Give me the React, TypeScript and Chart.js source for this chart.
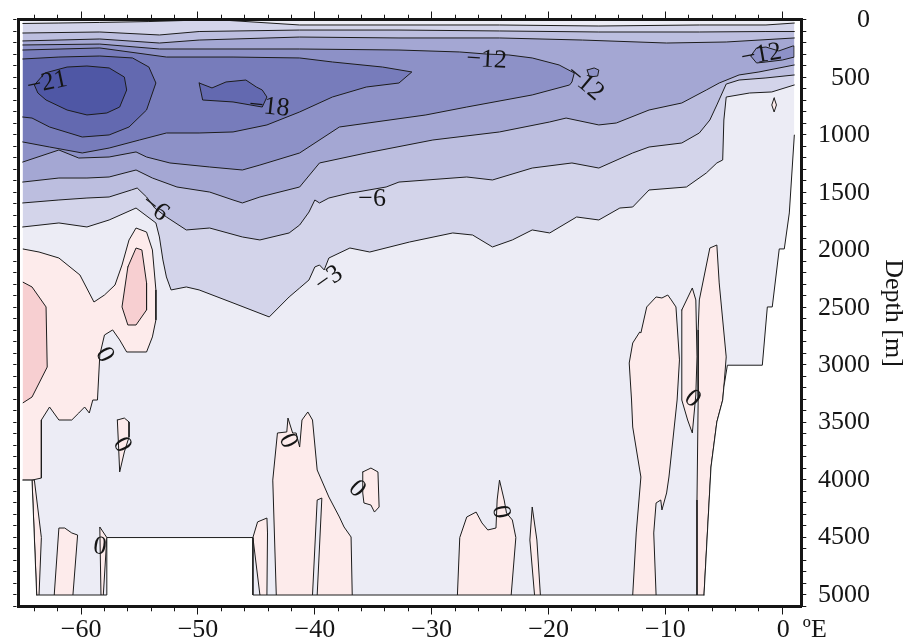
import { useEffect, useRef } from 'react';
import { Chart, registerables } from 'chart.js';

Chart.register(...registerables);

type P = [number, number]; // [longitude °E, depth m]

// ---------- axes ----------
const X_MIN = -65.4;
const X_MAX = 1.6;
const Y_MIN = -8.7;
const Y_MAX = 5100;
const X_MINOR_STEP = 2;
const X_MAJOR_STEP = 10;
const Y_MINOR_STEP = 100;
const Y_MAJOR_STEP = 500;
const X_LABEL_VALUES = [-60, -50, -40, -30, -20, -10, 0];
const X_LABEL_TEXT = ['−60', '−50', '−40', '−30', '−20', '−10', '0  ºE'];
const Y_LABEL_VALUES = [0, 500, 1000, 1500, 2000, 2500, 3000, 3500, 4000, 4500, 5000];
const Y_LABEL_TEXT = ['0', '500', '1000', '1500', '2000', '2500', '3000', '3500', '4000', '4500', '5000'];
const Y_TITLE = 'Depth [m]';

// ---------- section extent ----------
const SECTION_WEST = -65;
const SECTION_EAST = 1.03;
const SECTION_SURFACE = 0;
const SECTION_FLOOR = 5000;

// ---------- negative contours ----------
const C_M3_TOP_W: P[] = [[-65, 26], [-61.9, 22], [-58.4, 17], [-54.2, 9], [-51.2, 0]];
const C_M3_TOP_E: P[] = [[-47.3, 0], [-41.3, 39], [-32.8, 39], [-24.2, 39], [-15.7, 48], [-7.1, 39], [-1.4, 39], [1.03, 22]];
const C_M3_BOT: P[] = [[1.03, 561], [-0.9, 622], [-2.8, 631], [-4.8, 666], [-5.0, 866], [-5.1, 1214], [-5.6, 1240], [-6.5, 1327], [-8.2, 1449], [-11.4, 1475], [-12.8, 1623], [-13.9, 1632], [-15.7, 1736], [-17.6, 1710], [-19.9, 1849], [-21.4, 1823], [-23.1, 1910], [-24.8, 1971], [-26.5, 1867], [-28.2, 1849], [-31.9, 1928], [-35.3, 2015], [-37.0, 1980], [-38.8, 2067], [-39.2, 2171], [-39.6, 2128], [-40.0, 2145], [-40.5, 2258], [-41.3, 2328], [-42.2, 2406], [-43.9, 2580], [-47.0, 2458], [-49.9, 2345], [-51.0, 2319], [-52.3, 2345], [-52.7, 2232], [-53.0, 2084], [-53.3, 1884], [-53.6, 1762], [-55.3, 1632], [-57.6, 1736], [-59.5, 1797], [-61.9, 1762], [-65, 1797]];
const C_M6_TOP: P[] = [[-65, 109], [-58.4, 100], [-53.3, 126], [-49.9, 96], [-41.3, 83], [-32.8, 83], [-24.2, 91], [-15.7, 100], [-7.1, 100], [-1.4, 96], [1.03, 96]];
const C_M6_BOT: P[] = [[1.03, 474], [-1.4, 500], [-3.7, 518], [-4.8, 553], [-5.6, 735], [-6.2, 866], [-7.1, 979], [-8.6, 1066], [-11.4, 1101], [-12.8, 1153], [-15.7, 1284], [-18.0, 1240], [-21.4, 1284], [-24.8, 1388], [-27.0, 1362], [-32.8, 1406], [-33.9, 1449], [-36.4, 1493], [-37.0, 1501], [-38.8, 1545], [-39.6, 1588], [-40.0, 1562], [-40.5, 1667], [-41.3, 1780], [-42.2, 1849], [-44.7, 1910], [-46.2, 1884], [-49.0, 1806], [-51.0, 1823], [-52.7, 1710], [-53.7, 1632], [-54.4, 1536], [-55.2, 1458], [-55.7, 1475], [-57.6, 1536], [-59.5, 1545], [-61.9, 1562], [-65, 1588]];
const C_M9_TOP: P[] = [[-65, 178], [-58.4, 161], [-53.3, 196], [-49.9, 170], [-41.3, 144], [-32.8, 152], [-24.2, 152], [-17.1, 170], [-9.9, 196], [-4.8, 187], [1.03, 152]];
const C_M9_BOT: P[] = [[1.03, 387], [-2.0, 448], [-3.7, 474], [-5.4, 544], [-6.5, 605], [-8.6, 718], [-11.4, 779], [-14.2, 892], [-15.7, 909], [-18.5, 849], [-19.9, 883], [-24.2, 970], [-29.9, 1040], [-35.6, 1153], [-39.6, 1240], [-41.3, 1449], [-44.7, 1536], [-46.2, 1588], [-47.0, 1562], [-49.0, 1493], [-51.8, 1449], [-53.9, 1371], [-55.3, 1301], [-57.6, 1362], [-59.5, 1371], [-61.9, 1371], [-65, 1406]];
const C_M12: P[] = [[-65, 213], [-58.4, 205], [-53.3, 248], [-41.3, 248], [-32.8, 257], [-27.6, 274], [-25.3, 292], [-23.4, 300], [-21.4, 326], [-19.1, 387], [-17.8, 457], [-18.0, 535], [-18.2, 561], [-21.4, 648], [-27.0, 753], [-30.5, 822], [-37.9, 927], [-41.3, 1153], [-44.7, 1258], [-46.2, 1301], [-49.0, 1275], [-52.4, 1240], [-54.4, 1188], [-55.3, 1144], [-57.6, 1188], [-60.2, 1197], [-61.9, 1127], [-65, 1232]];
const C_M12_EAST: P[] = [[-2.7, 309], [-2.2, 239], [-1.4, 231], [-0.3, 265], [0.9, 222], [1.03, 222], [1.03, 318], [0, 344], [-1.4, 361], [-2.2, 370]];
const C_M12_SMALL: P[] = [[-16.7, 431], [-16.1, 413], [-15.7, 431], [-15.8, 483], [-16.5, 492]];
const C_M15: P[] = [[-65, 257], [-58.4, 239], [-52.7, 318], [-47.0, 318], [-41.3, 326], [-38.5, 361], [-34.2, 405], [-31.7, 448], [-32.8, 544], [-35.6, 579], [-38.5, 666], [-41.3, 796], [-44.1, 909], [-47.0, 970], [-49.9, 979], [-52.7, 979], [-55.0, 1040], [-57.6, 1110], [-59.9, 1153], [-62.7, 1101], [-65, 1057]];
const C_M18: P[] = [[-65, 335], [-61.9, 318], [-58.4, 309], [-55.6, 326], [-54.2, 405], [-53.6, 544], [-54.4, 779], [-55.9, 927], [-57.6, 996], [-59.9, 1014], [-62.7, 927], [-64.2, 849], [-65, 840]];
const C_M18_BLOB: P[] = [[-49.9, 544], [-48.8, 587], [-47.6, 535], [-45.9, 518], [-45.0, 579], [-44.5, 605], [-44.1, 666], [-44.5, 753], [-47.0, 709], [-49.6, 692]];
const C_M21: P[] = [[-64.0, 561], [-63.1, 457], [-61.2, 405], [-59.5, 396], [-57.6, 413], [-56.3, 492], [-56.1, 605], [-56.7, 753], [-57.8, 805], [-59.5, 822], [-61.2, 779], [-63.0, 692], [-63.7, 631]];

// ---------- positive contours ----------
const C_P0_WEST: P[] = [[-65, 1988], [-63.6, 2015], [-61.9, 2067], [-60.1, 2215], [-58.9, 2450], [-58.0, 2389], [-57.1, 2302], [-56.5, 2128], [-55.9, 1910], [-55.3, 1806], [-54.4, 1841], [-53.9, 1997], [-53.6, 2345], [-53.6, 2606], [-53.9, 2754], [-54.4, 2885], [-56.1, 2885], [-56.7, 2780], [-57.3, 2693], [-58.0, 2737], [-58.4, 2911], [-58.6, 3303], [-59.0, 3303], [-59.3, 3416], [-59.7, 3364], [-60.2, 3416], [-60.8, 3477], [-61.9, 3477], [-62.7, 3364], [-63.4, 3477], [-63.4, 3982], [-64.2, 4000], [-65, 4000]];
const C_P3_WEST: P[] = [[-65, 2276], [-64.2, 2319], [-63.0, 2493], [-62.9, 3016], [-64.2, 3277], [-65, 3329]];
const C_P3_TONGUE: P[] = [[-56.0, 2145], [-55.3, 1980], [-54.8, 1997], [-54.4, 2284], [-54.4, 2519], [-55.3, 2650], [-56.0, 2650], [-56.5, 2493]];
const C_P0_SPOT_A: P[] = [[-56.9, 3477], [-56.3, 3460], [-55.9, 3494], [-55.9, 3625], [-56.3, 3755], [-56.7, 3929], [-56.8, 3695]];
const C_P0_SLIVER: P[] = [[-63.8, 5000], [-64.2, 4000], [-64.0, 4000], [-63.4, 4500], [-63.6, 5000]];
const C_P0_PATCH_B: P[] = [[-62.3, 5000], [-61.9, 4417], [-61.4, 4417], [-60.8, 4460], [-60.3, 4478], [-60.7, 5000]];
const C_P0_PATCH_C: P[] = [[-58.3, 5000], [-58.4, 4408], [-57.8, 4500], [-58.1, 5000]];
const C_P0_PATCH_D: P[] = [[-44.7, 5000], [-45.3, 4500], [-44.9, 4364], [-44.1, 4330], [-44.05, 4460], [-44.1, 5000]];
const C_P0_BIG: P[] = [[-43.3, 5000], [-43.6, 4000], [-43.2, 3590], [-42.4, 3581], [-42.3, 3460], [-41.9, 3590], [-41.6, 3590], [-41.3, 3712], [-41.1, 3477], [-40.6, 3407], [-40.2, 3477], [-39.8, 3912], [-38.8, 4147], [-37.9, 4321], [-37.5, 4408], [-36.9, 4495], [-36.8, 5000]];
const C_M0_WEDGE: P[] = [[-40.2, 5000], [-39.8, 4173], [-39.4, 4156], [-39.8, 5000]];
const C_P0_SPOT_E: P[] = [[-35.9, 3929], [-35.2, 3895], [-34.6, 3929], [-34.5, 4234], [-34.9, 4278], [-35.2, 4217], [-35.8, 4199], [-35.9, 4112]];
const C_P0_PATCH_F: P[] = [[-27.8, 5000], [-27.6, 4500], [-27.0, 4321], [-26.2, 4278], [-25.7, 4373], [-25.2, 4434], [-24.5, 4417], [-24.4, 4173], [-24.2, 4000], [-23.8, 4173], [-23.6, 4286], [-23.1, 4347], [-22.8, 4500], [-23.2, 5000]];
const C_P0_SPIKE: P[] = [[-21.2, 5000], [-21.6, 4521], [-21.4, 4234], [-21.0, 4521], [-20.7, 5000]];
const C_P0_EAST_A: P[] = [[-12.8, 5000], [-12.5, 4460], [-12.1, 3973], [-12.2, 3912], [-12.8, 3538], [-12.9, 3303], [-13.1, 2981], [-12.8, 2807], [-12.2, 2711], [-12.1, 2719], [-11.6, 2493], [-10.8, 2406], [-10.3, 2415], [-9.8, 2389], [-9.5, 2432], [-9.1, 2493], [-8.8, 2954], [-9.0, 3303], [-9.7, 3973], [-9.9, 4112], [-10.3, 4260], [-10.4, 4173], [-10.8, 4199], [-11.0, 4460], [-10.8, 5000]];
const C_P0_EAST_B: P[] = [[-8.6, 2519], [-7.7, 2328], [-7.4, 2432], [-7.3, 2928], [-7.4, 3259], [-7.7, 3590], [-8.1, 3477], [-8.6, 3303]];
const C_P0_EAST_C: P[] = [[-6.7, 5000], [-6.1, 3886], [-5.6, 3494], [-5.1, 3303], [-5.0, 3190], [-4.8, 2928], [-5.4, 2284], [-5.6, 1954], [-6.2, 1980], [-7.1, 2432], [-7.2, 2693], [-7.2, 3303], [-7.3, 4173], [-7.3, 5000]];
const C_P0_DROP: P[] = [[-0.7, 674], [-0.5, 735], [-0.7, 796], [-0.9, 735]];

// ---------- data coverage edges ----------
const EDGE_EAST: P[] = [[1.03, 996], [0.6, 1675], [0.17, 1988], [-0.26, 1988], [-0.86, 2493], [-1.28, 2493], [-1.71, 3000], [-4.7, 3000], [-5.0, 3190], [-5.1, 3303], [-5.6, 3494], [-6.1, 3886], [-6.7, 5000]];
const EDGE_FLOOR: P[] = [[-63.8, 5000], [-57.8, 5000], [-57.8, 4500], [-45.3, 4500], [-45.3, 5000], [-6.7, 5000]];
const EDGE_WEST: P[] = [[-65, 4000], [-64.2, 4000], [-63.8, 5000]];

// ---------- contour labels ----------
const LABEL_TEXT = ['−21', '−18', '−12', '−12', '−12', '−6', '−6', '−3', '0', '0', '0', '0', '0', '0', '0'];
const LABEL_LON = [-62.9, -43.9, -25.3, -16.9, -1.8, -35.1, -53.7, -38.8, -58.0, -56.5, -58.4, -42.3, -36.4, -24.1, -7.7];
const LABEL_DEPTH = [544, 753, 344, 544, 300, 1553, 1632, 2250, 2911, 3695, 4582, 3660, 4077, 4278, 3294];
const LABEL_ANGLE = [-12, 6, 3, 40, -10, 0, 38, -35, 60, 60, 10, 65, 45, 80, 40];

// ---------- styling ----------
const FONT = "'Liberation Serif', 'Times New Roman', Times, serif";
const INK = '#151515';
const LINE = '#1c1c1c';
const BORDER_W = 3;
const MINOR_LEN = 3.3;
const COLOR = {
  base: '#ececf5',
  m3: '#d3d4ea',
  m6: '#bcbedf',
  m9: '#a4a7d3',
  m12: '#8d91c7',
  m15: '#777cbb',
  m18: '#6369b0',
  m21: '#4f57a5',
  p0: '#fdebeb',
  p3: '#f7cfd1',
  blank: '#ffffff',
};

const isMultiple = (v: number, step: number) => Math.abs(v / step - Math.round(v / step)) < 1e-6;

function xLabel(v: number): string {
  const i = X_LABEL_VALUES.findIndex((t) => Math.abs(t - v) < 1e-6);
  if (i < 0) return '';
  const text = X_LABEL_TEXT[i];
  // balance the trailing unit so the number stays centred under its tick
  return i === X_LABEL_VALUES.length - 1 ? '      ' + text : text;
}

function tickDash(outerFirst: boolean, length: number, major: number) {
  return (ctx: any) => {
    const v = ctx && ctx.tick ? ctx.tick.value : 0;
    if (isMultiple(v, major)) return [];
    const visible = length - BORDER_W / 2;
    return outerFirst ? [0, visible - MINOR_LEN, MINOR_LEN, 400] : [MINOR_LEN, 400];
  };
}

function buildDatasets() {
  const list: any[] = [];
  const add = (data: P[], fillColor: string | null, stroke: boolean, close = false) => {
    const pts = close ? [...data, data[0]] : data;
    list.push({
      data: pts.map(([x, y]) => ({ x, y })),
      backgroundColor: fillColor ?? 'rgba(0,0,0,0)',
      borderColor: stroke ? LINE : 'rgba(0,0,0,0)',
      borderWidth: 1,
      fill: fillColor ? 'shape' : false,
      pointRadius: 0,
      pointHoverRadius: 0,
      pointHitRadius: 0,
      tension: 0,
      borderJoinStyle: 'round',
      borderCapStyle: 'round',
      xAxisID: 'x',
      yAxisID: 'y',
    });
  };
  const base: P[] = [[SECTION_WEST, SECTION_SURFACE], [SECTION_EAST, SECTION_SURFACE], [SECTION_EAST, SECTION_FLOOR], [SECTION_WEST, SECTION_FLOOR]];
  add(base, COLOR.base, false);
  // negative bands, from weakest to strongest
  add([...C_M3_TOP_W, ...C_M3_TOP_E, ...C_M3_BOT], COLOR.m3, false);
  add([...C_M6_TOP, ...C_M6_BOT], COLOR.m6, false);
  add([...C_M9_TOP, ...C_M9_BOT], COLOR.m9, false);
  add(C_M12, COLOR.m12, false);
  add(C_M12_EAST, COLOR.m12, true, true);
  add(C_M12_SMALL, COLOR.m12, true, true);
  add(C_M15, COLOR.m15, false);
  add(C_M18, COLOR.m18, false);
  add(C_M18_BLOB, COLOR.m18, true, true);
  add(C_M21, COLOR.m21, true, true);
  // positive regions
  add(C_P0_WEST, COLOR.p0, true);
  add(C_P3_WEST, COLOR.p3, true);
  add(C_P3_TONGUE, COLOR.p3, true, true);
  add(C_P0_SPOT_A, COLOR.p0, true, true);
  add(C_P0_SLIVER, COLOR.p0, true);
  add(C_P0_PATCH_B, COLOR.p0, true);
  add(C_P0_PATCH_C, COLOR.p0, true);
  add(C_P0_PATCH_D, COLOR.p0, true);
  add(C_P0_BIG, COLOR.p0, true);
  add(C_M0_WEDGE, COLOR.base, true);
  add(C_P0_SPOT_E, COLOR.p0, true, true);
  add(C_P0_PATCH_F, COLOR.p0, true);
  add(C_P0_SPIKE, COLOR.p0, true);
  add(C_P0_EAST_A, COLOR.p0, true);
  add(C_P0_EAST_B, COLOR.p0, true, true);
  add(C_P0_EAST_C, COLOR.p0, true);
  add(C_P0_DROP, COLOR.p0, true, true);
  // areas without data
  const far = { w: X_MIN - 2, e: X_MAX + 2, n: Y_MIN - 50, s: Y_MAX + 50 };
  const last = EDGE_EAST[EDGE_EAST.length - 1];
  add([...EDGE_EAST, [last[0], far.s], [far.e, far.s], [far.e, far.n], [SECTION_EAST, far.n]], COLOR.blank, false);
  add([[far.w, SECTION_FLOOR], [far.e, SECTION_FLOOR], [far.e, far.s], [far.w, far.s]], COLOR.blank, false);
  add([EDGE_FLOOR[2], EDGE_FLOOR[3], EDGE_FLOOR[4], EDGE_FLOOR[1]], COLOR.blank, false);
  add([[far.w, far.n], [SECTION_WEST, far.n], ...EDGE_WEST, [EDGE_WEST[2][0], far.s], [far.w, far.s]], COLOR.blank, false);
  // contour lines
  [C_M3_TOP_W, C_M3_TOP_E, C_M3_BOT, C_M6_TOP, C_M6_BOT, C_M9_TOP, C_M9_BOT, C_M12, C_M15, C_M18].forEach((c) => add(c, null, true));
  [EDGE_EAST, EDGE_FLOOR, EDGE_WEST].forEach((c) => add(c, null, true));
  list.forEach((d, i) => (d.order = -i));
  return list;
}

const contourLabels = {
  id: 'contourLabels',
  afterDatasetsDraw(chart: any) {
    const { ctx, chartArea: a } = chart;
    const xs = chart.scales.x;
    const ys = chart.scales.y;
    ctx.save();
    ctx.beginPath();
    ctx.rect(a.left, a.top, a.right - a.left, a.bottom - a.top);
    ctx.clip();
    ctx.font = `26px ${FONT}`;
    ctx.fillStyle = INK;
    ctx.textAlign = 'center';
    ctx.textBaseline = 'middle';
    LABEL_TEXT.forEach((t, i) => {
      ctx.save();
      ctx.translate(xs.getPixelForValue(LABEL_LON[i]), ys.getPixelForValue(LABEL_DEPTH[i]));
      ctx.rotate((LABEL_ANGLE[i] * Math.PI) / 180);
      ctx.fillText(t, 0, 0);
      ctx.restore();
    });
    ctx.restore();
  },
};

// depth tick labels, right-aligned against the outer edge of the right-hand depth axis
const depthTickLabels = {
  id: 'depthTickLabels',
  afterDraw(chart: any) {
    const s = chart.scales.yRight;
    if (!s) return;
    const { ctx } = chart;
    ctx.save();
    ctx.font = `26px ${FONT}`;
    ctx.fillStyle = INK;
    ctx.textAlign = 'right';
    ctx.textBaseline = 'middle';
    Y_LABEL_VALUES.forEach((v, i) => ctx.fillText(Y_LABEL_TEXT[i], s.right, s.getPixelForValue(v)));
    ctx.restore();
  },
};

function depthAxis(position: 'left' | 'right', tickLength: number, width: number, outerFirst: boolean) {
  return {
    type: 'linear',
    min: Y_MIN,
    max: Y_MAX,
    position,
    reverse: true,
    weight: 0,
    afterFit: (s: any) => { s.width = width; },
    border: { display: true, color: INK, width: BORDER_W, z: 1 },
    grid: { display: true, drawOnChartArea: false, drawTicks: true, tickLength, tickColor: INK, tickWidth: 1, tickBorderDash: tickDash(outerFirst, tickLength, Y_MAJOR_STEP) },
    ticks: { display: false, stepSize: Y_MINOR_STEP, autoSkip: false, includeBounds: false, maxTicksLimit: 1000 },
  };
}

function buildConfig(): any {
  return {
    type: 'line',
    data: { datasets: buildDatasets() },
    plugins: [contourLabels, depthTickLabels],
    options: {
      responsive: false,
      animation: false,
      devicePixelRatio: 1,
      events: [],
      layout: { padding: { left: 9, right: 0, top: 11.5, bottom: 0 } },
      plugins: { legend: { display: false }, tooltip: { enabled: false }, title: { display: false } },
      scales: {
        x: {
          type: 'linear', min: X_MIN, max: X_MAX, position: 'bottom',
          afterFit: (s: any) => { s.height = 36.5; },
          border: { display: true, color: INK, width: BORDER_W, z: 1 },
          grid: { display: true, drawOnChartArea: false, drawTicks: true, tickLength: 8, tickColor: INK, tickWidth: 1, tickBorderDash: tickDash(false, 8, X_MAJOR_STEP) },
          ticks: {
            stepSize: X_MINOR_STEP, autoSkip: false, includeBounds: false, maxRotation: 0, minRotation: 0,
            maxTicksLimit: 1000, padding: 2.5, color: INK, font: { family: FONT, size: 26, lineHeight: 1 },
            callback: (v: any) => xLabel(Number(v)),
          },
        },
        xTop: {
          type: 'linear', min: X_MIN, max: X_MAX, position: 'top',
          afterFit: (s: any) => { s.height = 8; },
          border: { display: true, color: INK, width: BORDER_W, z: 1 },
          grid: { display: true, drawOnChartArea: false, drawTicks: true, tickLength: 8, tickColor: INK, tickWidth: 1, tickBorderDash: tickDash(true, 8, X_MAJOR_STEP) },
          ticks: { display: false, stepSize: X_MINOR_STEP, autoSkip: false, includeBounds: false, maxTicksLimit: 1000 },
        },
        y: depthAxis('left', 9, 9, true),
        yRight: depthAxis('right', 8, 69, false),
        yTitle: {
          type: 'linear', min: Y_MIN, max: Y_MAX, position: 'right', reverse: true, weight: 5,
          afterFit: (s: any) => { s.width = 34; },
          border: { display: false },
          grid: { display: false, drawOnChartArea: false, drawTicks: false },
          ticks: { display: false },
          title: { display: true, text: Y_TITLE, color: INK, font: { family: FONT, size: 26, lineHeight: '22px' }, padding: { top: 0, bottom: 12 } },
        },
      },
    },
  };
}

export default function App() {
  const ref = useRef<HTMLCanvasElement | null>(null);
  useEffect(() => {
    if (!ref.current) return;
    const chart = new Chart(ref.current, buildConfig());
    return () => chart.destroy();
  }, []);
  return (
    <div style={{ position: 'absolute', left: 0, top: 0, width: 904, height: 643, background: '#ffffff' }}>
      <canvas ref={ref} width={904} height={643} style={{ display: 'block', width: 904, height: 643 }} />
    </div>
  );
}
